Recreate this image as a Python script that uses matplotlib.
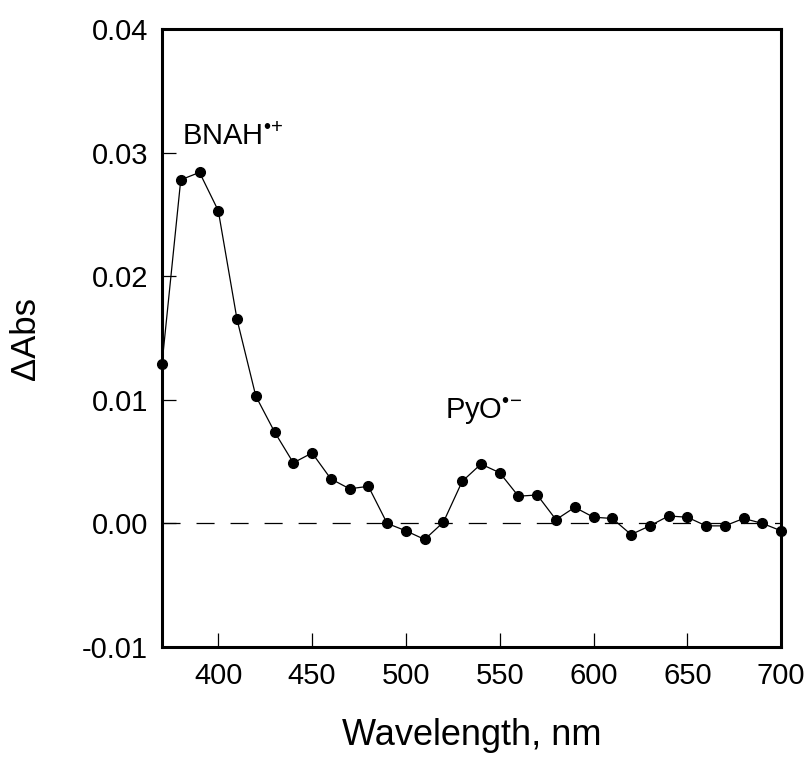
import numpy as np
import matplotlib
matplotlib.use('Agg')
import matplotlib.pyplot as plt
from matplotlib.ticker import FormatStrFormatter

# Dados do espectro de absorcao transiente
comprimento_onda = np.arange(370, 701, 10)
delta_abs = [0.0129, 0.0278, 0.0284, 0.0253, 0.0165, 0.0103, 0.0074, 0.0049, 0.0057, 0.0036,
             0.0028, 0.0030, 0.0000, -0.0006, -0.0013, 0.0001, 0.0034, 0.0048, 0.0041, 0.0022,
             0.0023, 0.0003, 0.0013, 0.0005, 0.0004, -0.0009, -0.0002, 0.0006, 0.0005, -0.0002,
             -0.0002, 0.0004, 0.0000, -0.0006]

x_ticks = [400, 450, 500, 550, 600, 650, 700]
y_ticks = [-0.01, 0.00, 0.01, 0.02, 0.03, 0.04]

plt.rcParams['font.family'] = ['Liberation Sans', 'DejaVu Sans']
plt.rcParams['mathtext.fontset'] = 'custom'
plt.rcParams['mathtext.rm'] = 'Liberation Sans'
plt.rcParams['mathtext.it'] = 'Liberation Sans'
plt.rcParams['lines.scale_dashes'] = False

fig = plt.figure(figsize=(8.12, 7.6), dpi=100)
ax = fig.add_axes([0.1995, 0.1487, 0.7625, 0.8131])

ax.axhline(0, color='black', lw=0.9, dashes=(13, 11.5))
ax.plot(comprimento_onda, delta_abs, color='black', lw=0.9, marker='o', markersize=7,
        clip_on=False, zorder=3)

ax.set_xlim(370, 700)
ax.set_ylim(-0.01, 0.04)
ax.set_xticks(x_ticks)
ax.set_yticks(y_ticks)
ax.yaxis.set_major_formatter(FormatStrFormatter('%.2f'))

for s in ax.spines.values():
    s.set_linewidth(2.2)
ax.tick_params(direction='in', length=10, width=0.9, labelsize=21, pad=10,
               top=False, right=False)
ax.tick_params(axis='x', pad=11)

ax.set_xlabel('Wavelength, nm', fontsize=26, labelpad=20)
ax.set_ylabel('ΔAbs', fontsize=25, labelpad=29)

# Rotulos das especies
ax.text(380.7, 0.0306, r'BNAH$^{\mathrm{•}\!+}$', fontsize=21, ha='left', va='baseline')
ax.text(520.9, 0.00845, r'PyO$^{\mathrm{•}\!-}$', fontsize=21, ha='left', va='baseline')

fig.savefig('out.png', dpi=100)
